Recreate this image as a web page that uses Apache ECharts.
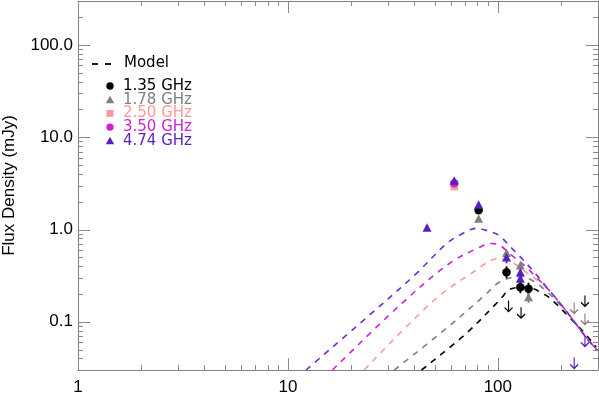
<!DOCTYPE html>
<html><head><meta charset="utf-8">
<script src="https://cdn.jsdelivr.net/npm/echarts@6/dist/echarts.min.js"></script>
<style>html,body{margin:0;padding:0;background:#fff}#c{width:599px;height:395px}</style>
</head><body><div id="c"></div>
<script>
// ---- tick values ----
const xTicks = [1, 10, 100];
const xMinorTicks = [2,3,4,5,6,7,8,9,20,30,40,50,60,70,80,90,200];
const yTicks = [0.1, 1, 10, 100];
const yMinorTicks = [0.04,0.05,0.06,0.07,0.08,0.09,0.2,0.3,0.4,0.5,0.6,0.7,0.8,0.9,2,3,4,5,6,7,8,9,20,30,40,50,60,70,80,90,200];

// ---- legend / series names ----
const freqNames = ['1.35 GHz', '1.78 GHz', '2.50 GHz', '3.50 GHz', '4.74 GHz'];
const modelName = 'Model';
const yTitle = 'Flux Density (mJy)';

// ---- model curves [day, flux mJy] ----
const model135 = [[43.3,0.03],[70.8,0.075],[101.6,0.17],[115.6,0.228],[136,0.237],[169.7,0.193],[189,0.157],[219,0.112],[253,0.080],[294,0.053]];
const model178 = [[32.1,0.03],[54.4,0.078],[88,0.2],[99.5,0.26],[115,0.30],[128,0.31],[146,0.28],[170,0.215],[211,0.13],[263,0.068],[298,0.049]];
const model250 = [[23.1,0.03],[48.8,0.165],[75.6,0.34],[101.6,0.485],[117,0.44],[136.7,0.342],[158,0.27],[176,0.218],[211,0.132],[263,0.068],[298,0.049]];
const model350 = [[16.3,0.03],[34,0.15],[58.7,0.428],[81.6,0.64],[93,0.705],[101.6,0.68],[117,0.52],[136.7,0.39],[158,0.28],[176,0.218],[211,0.132],[263,0.068],[298,0.049]];
const model474 = [[12.2,0.03],[23.6,0.11],[40.9,0.333],[56.8,0.70],[67.6,0.90],[79,1.03],[94.2,0.93],[101.6,0.86],[117,0.62],[126.5,0.52],[146.5,0.36],[176,0.218],[211,0.132],[263,0.068],[298,0.049]];

// ---- detections [day, flux] ----
const obs135 = [[81,1.62],[110,0.345],[128,0.237],[140,0.228]];
const obs178 = [[81,1.32],[110,0.56],[128,0.41],[140,0.185]];
const obs250 = [[62,2.92]];
const obs350 = [[62,3.18]];
const obs474 = [[46,1.05],[62,3.4],[81,1.87],[110,0.50],[128,0.345],[128,0.295]];

// ---- error bars [day, low, high] ----
const err135 = [[110,0.297,0.40],[128,0.204,0.275],[140,0.196,0.265]];
const err178 = [[140,0.16,0.215]];
const err474 = [[110,0.43,0.58],[128,0.30,0.40]];

// ---- upper limits [day, flux] ----
const lim135 = [[112.5,0.17],[129,0.144],[260,0.193]];
const lim178 = [[231,0.162],[260,0.123]];
const lim474 = [[260,0.071],[231,0.041]];

const X_MIN = 1, X_MAX = 300, Y_MIN = 0.03, Y_MAX = 300;
const C = {'1.35 GHz':'#000000','1.78 GHz':'#808080','2.50 GHz':'#FF9999','3.50 GHz':'#D022D0','4.74 GHz':'#5A1EBE'};
const modelColors = ['#000000','#808080','#FF9999','#D022D0','#6A2FD0'];
const AX = '#808080', TK = '#8a8a8a';
const FONT = 'Liberation Sans';
const LFONT = 'DejaVu Sans';
const TRI = 'path://M5,0L10,9L0,9Z';
const SQR = 'path://M0,0L10,0L10,10L0,10Z';

function xAxisDef(pos) {
  return {
    type:'log', logBase:10, min:X_MIN, max:X_MAX, position:pos, gridIndex:0,
    axisLine:{show:true, onZero:false, lineStyle:{color:AX, width:1}},
    axisTick:{show:false},
    axisLabel:{show: pos==='bottom', customValues:xTicks, margin:9, color:'#000', fontFamily:FONT, fontSize:17,
      formatter:(v)=>String(Math.round(v))},
    splitLine:{show:false}, minorTick:{show:false}
  };
}
function yAxisDef(pos) {
  const d = {
    type:'log', logBase:10, min:Y_MIN, max:Y_MAX, position:pos, gridIndex:0,
    axisLine:{show:true, onZero:false, lineStyle:{color:AX, width:1}},
    axisTick:{show:false},
    axisLabel:{show: pos==='left', customValues:yTicks, margin:5, color:'#000', fontFamily:FONT, fontSize:17,
      formatter:(v)=>v.toFixed(1)},
    splitLine:{show:false}, minorTick:{show:false}
  };
  if (pos==='left') {
    d.name = yTitle; d.nameLocation='middle'; d.nameGap=60;
    d.nameTextStyle = {fontFamily:FONT, fontSize:17, color:'#000'};
  }
  return d;
}

const series = [];
const models = [model135, model178, model250, model350, model474];
models.forEach((m,i)=>{
  series.push({name:modelName, type:'line', data:m, symbol:'none', showSymbol:false, smooth:0.35, clip:true,
    lineStyle:{color:modelColors[i], width:1.6, type:[6,6]}, itemStyle:{color:modelColors[i]}, z:2, silent:true});
});
const obs = [obs135, obs178, obs250, obs350, obs474];
const syms = ['circle', TRI, SQR, 'circle', TRI];
const sizes = [8.5, [9,8.5], 7.5, 8.5, [9,8.5]];
const errs = {'1.35 GHz':err135,'1.78 GHz':err178,'4.74 GHz':err474};
const lims = {'1.35 GHz':lim135,'1.78 GHz':lim178,'4.74 GHz':lim474};
freqNames.forEach((n,i)=>{
  series.push({name:n, type:'scatter', data:obs[i], symbol:syms[i], symbolSize:sizes[i],
    itemStyle:{color:C[n], opacity:1}, z:5+i, silent:true});
});
freqNames.forEach((n)=>{
  if (errs[n]) series.push({name:n, type:'custom', data:errs[n], encode:{x:0,y:[1,2]}, z:4,
    renderItem:(p,api)=>{
      const a = api.coord([api.value(0), api.value(1)]);
      const b = api.coord([api.value(0), api.value(2)]);
      return {type:'line', shape:{x1:a[0],y1:a[1],x2:b[0],y2:b[1]}, style:{stroke:C[n], lineWidth:1.8}};
    }});
  if (lims[n]) series.push({name:n, type:'scatter', data:lims[n],
    symbol:'path://M4,0L4,11M0.5,7L4,11L7.5,7', symbolSize:[8,11], symbolOffset:[0,'50%'],
    itemStyle:{color:'transparent', borderColor:C[n], borderWidth:1.3, opacity:1}, z:4, silent:true});
});

// ---- legend (drawn as graphic elements for exact placement) ----
const legendEls = [
  {type:'line', shape:{x1:92, y1:64, x2:98, y2:64}, style:{stroke:'#000', lineWidth:1.8}},
  {type:'line', shape:{x1:105, y1:64, x2:111, y2:64}, style:{stroke:'#000', lineWidth:1.8}},
  {type:'text', x:124, y:63.5, style:{text:modelName, fontFamily:LFONT, fontSize:15, fill:'#000', align:'left', verticalAlign:'middle'}}
];
freqNames.forEach((n,i)=>{
  const cy = 86 + 13.7*i, cx = 110;
  let shp;
  if (syms[i]==='circle') shp = {type:'circle', shape:{cx:cx, cy:cy, r:3.7}, style:{fill:C[n]}};
  else if (syms[i]===TRI) shp = {type:'polygon', shape:{points:[[cx,cy-4],[cx+4.2,cy+3.5],[cx-4.2,cy+3.5]]}, style:{fill:C[n]}};
  else shp = {type:'rect', shape:{x:cx-3.5, y:cy-3.5, width:7, height:7}, style:{fill:C[n]}};
  legendEls.push(shp);
  legendEls.push({type:'text', x:123, y:cy, style:{text:n, fontFamily:LFONT, fontSize:15, fill:C[n], align:'left', verticalAlign:'middle'}});
});

const option = {
  animation:false,
  grid:{left:78, right:1, top:1, bottom:25, containLabel:false, outerBoundsMode:'none'},
  xAxis:[xAxisDef('bottom'), xAxisDef('top')],
  yAxis:[yAxisDef('left'), yAxisDef('right')],
  series: series
};
const chart = echarts.init(document.getElementById('c'), null, {renderer:'canvas'});
chart.setOption(option);

// ---- inside tick marks on all four sides, placed through the axes' own scales ----
const tickEls = [];
const st = () => ({stroke:TK, lineWidth:1});
try {
  const bl = chart.convertToPixel({gridIndex:0}, [X_MIN, Y_MIN]);
  const tr = chart.convertToPixel({gridIndex:0}, [X_MAX, Y_MAX]);
  const addX = (vals, len) => vals.forEach(v => {
    const p = chart.convertToPixel({gridIndex:0}, [v, Y_MIN]);
    const x = Math.round(p[0]) + 0.5;
    tickEls.push({type:'line', shape:{x1:x, y1:bl[1], x2:x, y2:bl[1]-len}, style:st()});
    tickEls.push({type:'line', shape:{x1:x, y1:tr[1], x2:x, y2:tr[1]+len}, style:st()});
  });
  const addY = (vals, len) => vals.forEach(v => {
    const p = chart.convertToPixel({gridIndex:0}, [X_MIN, v]);
    const y = Math.round(p[1]) + 0.5;
    tickEls.push({type:'line', shape:{x1:bl[0], y1:y, x2:bl[0]+len, y2:y}, style:st()});
    tickEls.push({type:'line', shape:{x1:tr[0], y1:y, x2:tr[0]-len, y2:y}, style:st()});
  });
  addX(xTicks, 12); addX(xMinorTicks, 5);
  addY(yTicks, 12); addY(yMinorTicks, 5);
} catch (e) {}

chart.setOption({graphic: tickEls.concat(legendEls).map(e=>Object.assign({silent:true, z:20}, e))});
</script></body></html>
